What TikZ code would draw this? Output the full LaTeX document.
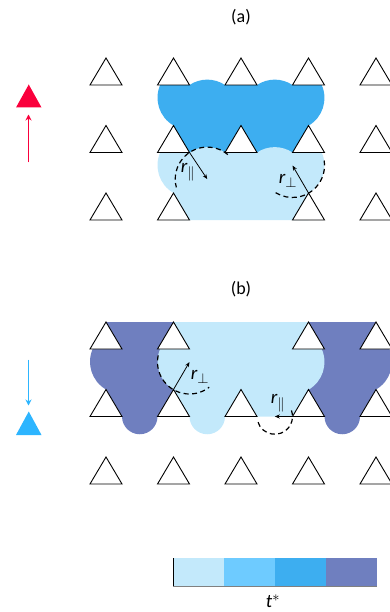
\documentclass[tikz,border=0pt]{standalone}
\usepackage{fontspec}
\setmainfont{Carlito}
\usetikzlibrary{arrows.meta}
\definecolor{cA}{RGB}{195,233,251}
\definecolor{cB}{RGB}{110,203,255}
\definecolor{cC}{RGB}{61,174,240}
\definecolor{cD}{RGB}{111,127,191}
\definecolor{redc}{RGB}{250,0,60}
\definecolor{bluec}{RGB}{45,181,255}
\begin{document}
\begin{tikzpicture}[x=1pt,y=-1pt,
  pillar/.style={draw=black,fill=white,line width=0.9pt,line join=miter},
  dashc/.style={draw=black,line width=1.2pt,dash pattern=on 5pt off 3.5pt},
  rarrow/.style={-{Stealth[length=5pt,width=4pt]},line width=0.8pt},
  lbl/.style={font=\fontsize{19}{22}\selectfont,inner sep=0pt},
  ttl/.style={font=\fontsize{18}{21}\selectfont,inner sep=0pt},
  bigarrow/.style={line width=1.8pt,-{Stealth[length=6pt,width=6pt]}}]
\useasboundingbox (0,0) rectangle (390,612);

% ---------- (a) ----------
\node[ttl] (ta) at (241,17) {(a)};
% dark region
\fill[cC] (173.5,125.5) arc[start angle=120,end angle=204,radius=32]
  -- (189.5,85) arc[start angle=236.3,end angle=303.7,radius=32]
  -- (257,85) arc[start angle=236.3,end angle=303.7,radius=32]
  -- (321.7,85) arc[start angle=-24,end angle=60,radius=32]
  -- (308.5,152.5) -- (173.5,152.5) -- cycle;
% light region
\fill[cA] (173.5,193) arc[start angle=120,end angle=204,radius=32]
  -- (189.5,152.5) arc[start angle=236.3,end angle=303.7,radius=32]
  -- (257,152.5) arc[start angle=236.3,end angle=303.7,radius=32]
  -- (321.7,152.5) arc[start angle=-24,end angle=60,radius=32]
  -- (308.5,220) -- (173.5,220) -- cycle;
% pillars
\foreach \x in {106,173.5,241,308.5,376}{
  \draw[pillar] (\x,58) -- ++(16,27) -- ++(-32,0) -- cycle;
  \draw[pillar] (\x,125.5) -- ++(16,27) -- ++(-32,0) -- cycle;}
\foreach \x in {106,173.5,308.5,376}{
  \draw[pillar] (\x,193) -- ++(16,27) -- ++(-32,0) -- cycle;}
% radii
\coordinate (ca) at (207.25,179.1);
\coordinate (pa) at (189.5,152.5);
\draw[dashc] (ca) ++(-50:32) arc[start angle=-50,end angle=-195,radius=32];
\draw[rarrow] (pa) -- (ca);
\node[lbl] (la) at (188,172) {\textit{r}$_{\parallel}$};
\coordinate (cb) at (292.5,165.5);
\coordinate (pb) at (308.5,193);
\draw[dashc] (cb) ++(-9:32) arc[start angle=-9,end angle=122,radius=32];
\draw[rarrow] (pb) -- (cb);
\node[lbl] (lb) at (288,181) {\textit{r}$_{\perp}$};
% red marker
\fill[redc] (16,107.5) -- (41.5,107.5) -- (28.75,84.5) -- cycle;
\coordinate (ra0) at (28.5,162.5);
\coordinate (ra1) at (28.5,114.5);
\draw[redc,bigarrow] (ra0) -- (ra1);

% ---------- (b) ----------
\node[ttl] (tb) at (241,289) {(b)};
\fill[cD] (106,322) -- (173.5,322) -- (173.5,389.5) -- (157.5,416.5)
  arc[start angle=0,end angle=180,radius=17.75]
  -- (106,389.5) arc[start angle=120,end angle=204,radius=32]
  -- (106,349) -- cycle;
\fill[cD] (376,322) -- (308.5,322) -- (308.5,389.5) -- (324.5,416.5)
  arc[start angle=180,end angle=0,radius=17.75]
  -- (376,389.5) arc[start angle=60,end angle=-24,radius=32]
  -- (376,349) -- cycle;
\fill[cA] (173.5,322) -- (308.5,322) -- (308.5,349)
  -- (321.7,349) arc[start angle=-24,end angle=60,radius=32]
  -- (292.5,416.5) -- (225,416.5) arc[start angle=0,end angle=180,radius=17.75]
  -- (173.5,389.5) arc[start angle=120,end angle=204,radius=32]
  -- (173.5,349) -- cycle;
\foreach \x in {106,173.5,308.5,376}{
  \draw[pillar] (\x,322) -- ++(16,27) -- ++(-32,0) -- cycle;}
\foreach \x in {106,173.5,241,308.5,376}{
  \draw[pillar] (\x,389.5) -- ++(16,27) -- ++(-32,0) -- cycle;
  \draw[pillar] (\x,457) -- ++(16,27) -- ++(-32,0) -- cycle;}
\coordinate (cc) at (189.5,362);
\coordinate (pc) at (173.5,389.5);
\draw[dashc] (cc) ++(192:32) arc[start angle=192,end angle=52,radius=32];
\draw[rarrow] (pc) -- (cc);
\node[lbl] (lc) at (200,377) {\textit{r}$_{\perp}$};
\coordinate (cd) at (274.75,416.5);
\coordinate (pd) at (292.5,416.5);
\draw[dashc] (cd) ++(-20:17.75) arc[start angle=-20,end angle=165,radius=17.75];
\draw[rarrow] (pd) -- (cd);
\node[lbl] (ld) at (278,403) {\textit{r}$_{\parallel}$};
% blue marker
\coordinate (ba0) at (28.5,359.5);
\coordinate (ba1) at (28.5,405.5);
\draw[bluec,bigarrow] (ba0) -- (ba1);
\fill[bluec] (16,435) -- (41.5,435) -- (28.75,411.5) -- cycle;

% ---------- colour bar ----------
\fill[cA] (173,558) rectangle (224,586);
\fill[cB] (224,558) rectangle (275,586);
\fill[cC] (275,558) rectangle (326,586);
\fill[cD] (326,558) rectangle (377,586);
\draw[gray,line width=0.6pt] (173,586) -- (377,586);
\draw[black,line width=0.8pt] (173,558) -- (173,586);
\node[lbl] (tstar) at (273,601) {\textit{t}$^{*}$};
\end{tikzpicture}
\end{document}
